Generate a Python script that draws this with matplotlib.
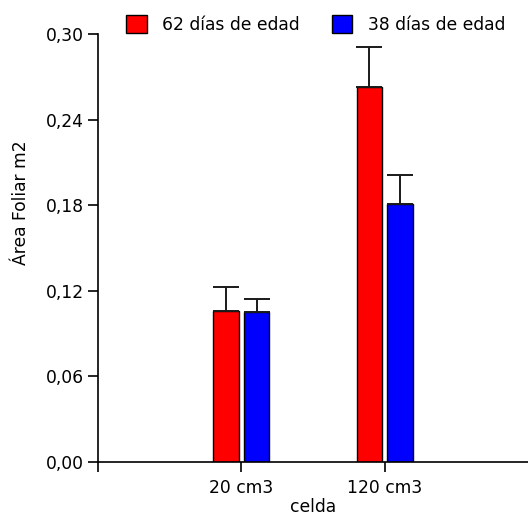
import matplotlib.pyplot as plt
import numpy as np
from matplotlib.patches import Patch
from matplotlib.ticker import FuncFormatter

# data
categories = ["20 cm3", "120 cm3"]
series_names = ["62 días de edad", "38 días de edad"]
values_62 = [0.106, 0.263]
errors_62 = [0.017, 0.028]
values_38 = [0.105, 0.181]
errors_38 = [0.009, 0.020]
y_ticks = [0.00, 0.06, 0.12, 0.18, 0.24, 0.30]

plt.rcParams["font.family"] = ["DejaVu Sans"]
plt.rcParams["font.size"] = 12.3

red = (1.0, 0.0, 0.0)
blue = (0.0, 0.0, 1.0)
err_kw = dict(ecolor="#1a1a1a", elinewidth=1.4, capsize=9.5, capthick=1.4)

fig = plt.figure(figsize=(5.28, 5.16), dpi=100)
ax = fig.add_axes([98 / 528, 1 - 462 / 516, 1 - 98 / 528, 428 / 516])

x = np.arange(1, len(categories) + 1)
offset = 0.106
width = 0.18

ax.bar(x - offset, values_62, width, color=red, edgecolor="black", linewidth=1.0,
       yerr=[np.zeros(len(errors_62)), errors_62], error_kw=err_kw, zorder=2)
ax.bar(x + offset, values_38, width, color=blue, edgecolor="black", linewidth=1.0,
       yerr=[np.zeros(len(errors_38)), errors_38], error_kw=err_kw, zorder=2)

ax.set_xlim(0, 3)
ax.set_ylim(0, 0.30)
ax.set_xticks(x)
ax.set_xticklabels(categories)
ax.set_xticks([0], minor=True)
ax.set_yticks(y_ticks)
ax.yaxis.set_major_formatter(FuncFormatter(lambda v, p: f"{v:.2f}".replace(".", ",")))

for side in ["top", "right"]:
    ax.spines[side].set_visible(False)
for side in ["left", "bottom"]:
    ax.spines[side].set_linewidth(1.2)
ax.tick_params(axis="both", which="both", direction="out", length=7, width=1.2)
ax.tick_params(axis="y", pad=3)
ax.tick_params(axis="x", pad=5)

ax.set_xlabel("celda", labelpad=1)
ax.set_ylabel("Área Foliar m2")
ax.yaxis.set_label_coords(-0.158, 0.605)

legend_items = [
    Patch(facecolor=red, edgecolor="black", linewidth=1.0, label=series_names[0]),
    Patch(facecolor=blue, edgecolor="black", linewidth=1.0, label=series_names[1]),
]
fig.legend(handles=legend_items, loc="upper left", bbox_to_anchor=(126 / 528, 1 - 15 / 516),
           ncol=2, frameon=False, borderpad=0, borderaxespad=0,
           handlelength=1.2, handleheight=1.2, handletextpad=0.9, columnspacing=1.9)

fig.savefig("out.png", dpi=100)
